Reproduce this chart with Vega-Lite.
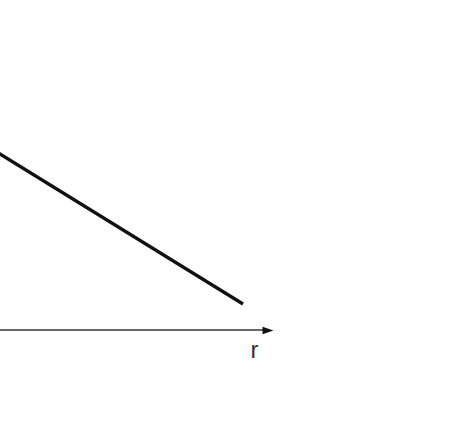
{
  "$schema": "https://vega.github.io/schema/vega-lite/v6.json",
  "autosize": "none",
  "width": 453,
  "height": 438,
  "padding": 0,
  "background": "white",
  "config": {"view": {"stroke": null}},
  "datasets": {
    "curve": [{"r": -4, "v": 151.5}, {"r": 243, "v": 304}],
    "axis": [{"r": -2, "r2": 265, "v": 330}],
    "arrow": [{"r": 268, "v": 330.5}],
    "label": [{"r": 254.5, "v": 351, "text": "r"}]
  },
  "layer": [
    {
      "data": {"name": "axis"},
      "mark": {"type": "rule", "color": "#333333", "strokeWidth": 1.3},
      "encoding": {
        "x": {"field": "r", "type": "quantitative", "scale": {"domain": [0, 453], "nice": false, "zero": false}, "axis": null},
        "x2": {"field": "r2"},
        "y": {"field": "v", "type": "quantitative", "scale": {"domain": [0, 438], "nice": false, "zero": false, "reverse": true}, "axis": null}
      }
    },
    {
      "data": {"name": "arrow"},
      "mark": {"type": "point", "shape": "M-1,-0.7L1,0L-1,0.7Z", "size": 120, "filled": true, "color": "#111111", "opacity": 1},
      "encoding": {
        "x": {"field": "r", "type": "quantitative"},
        "y": {"field": "v", "type": "quantitative"}
      }
    },
    {
      "data": {"name": "curve"},
      "mark": {"type": "line", "color": "#111111", "strokeWidth": 3.3},
      "encoding": {
        "x": {"field": "r", "type": "quantitative"},
        "y": {"field": "v", "type": "quantitative"}
      }
    },
    {
      "data": {"name": "label"},
      "mark": {"type": "text", "font": "Liberation Sans", "fontSize": 24, "color": "#333333", "baseline": "middle", "align": "center"},
      "encoding": {
        "x": {"field": "r", "type": "quantitative"},
        "y": {"field": "v", "type": "quantitative"},
        "text": {"field": "text"}
      }
    }
  ]
}
